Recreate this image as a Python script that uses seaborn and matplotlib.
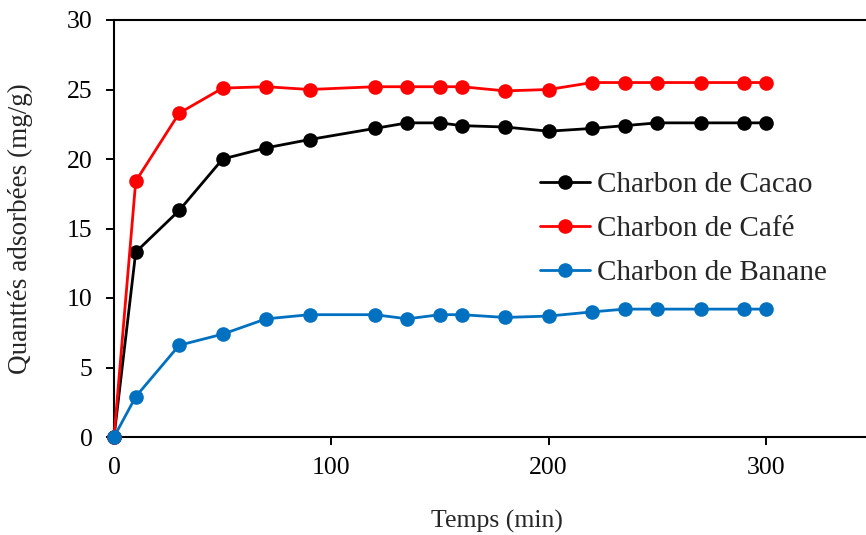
import matplotlib
matplotlib.use("Agg")
import matplotlib.pyplot as plt
import seaborn as sns
import pandas as pd

temps = [0, 10, 30, 50, 70, 90, 120, 135, 150, 160, 180, 200, 220, 235, 250, 270, 290, 300]
cacao = [0, 13.3, 16.3, 20.0, 20.8, 21.4, 22.2, 22.6, 22.6, 22.4, 22.3, 22.0, 22.2, 22.4, 22.6, 22.6, 22.6, 22.6]
cafe = [0, 18.4, 23.3, 25.1, 25.2, 25.0, 25.2, 25.2, 25.2, 25.2, 24.9, 25.0, 25.5, 25.5, 25.5, 25.5, 25.5, 25.5]
banane = [0, 2.9, 6.6, 7.4, 8.5, 8.8, 8.8, 8.5, 8.8, 8.8, 8.6, 8.7, 9.0, 9.2, 9.2, 9.2, 9.2, 9.2]
labels = ["Charbon de Cacao", "Charbon de Café", "Charbon de Banane"]
colors = ["#000000", "#FF0000", "#0070C0"]
x_ticks = [0, 100, 200, 300]
y_ticks = [0, 5, 10, 15, 20, 25, 30]

sns.set_style("white")
plt.rcParams["font.family"] = ["Liberation Serif", "DejaVu Serif"]

W, H = 866, 535
fig = plt.figure(figsize=(W / 100, H / 100), dpi=100)
x0, x1, ytop, ybot = 114, 874.6, 20, 437
ax = fig.add_axes([x0 / W, (H - ybot) / H, (x1 - x0) / W, (ybot - ytop) / H])

for series, lab, col in zip([cacao, cafe, banane], labels, colors):
    df = pd.DataFrame({"t": temps, "q": series})
    sns.lineplot(data=df, x="t", y="q", ax=ax, color=col, marker="o",
                 markersize=10.5, markeredgewidth=0, linewidth=2.0, label=lab,
                 clip_on=False, zorder=3)

ax.set_xlim(0, 350)
ax.set_ylim(0, 30)
ax.set_xticks(x_ticks)
ax.set_yticks(y_ticks)
ax.tick_params(axis="both", direction="out", length=5.5, width=1.4,
               labelsize=18.5, color="black", labelcolor="black")
ax.tick_params(axis="y", pad=10)
ax.tick_params(axis="x", pad=9)
ax.tick_params(left=True, bottom=True)
for s in ["left", "bottom", "top"]:
    ax.spines[s].set_visible(True)
    ax.spines[s].set_linewidth(1.5)
    ax.spines[s].set_color("black")
ax.spines["right"].set_visible(False)

ax.set_xlabel("Temps (min)", fontsize=18.5)
ax.set_ylabel("Quanttés adsorbées (mg/g)", fontsize=19.5)
ax.xaxis.set_label_coords((497 - x0) / (x1 - x0), -(521 - ybot) / (ybot - ytop))
ax.yaxis.set_label_coords(-(114 - 20) / (x1 - x0), 0.5)
ax.xaxis.label.set_va("center")
ax.yaxis.label.set_va("center")

leg = ax.legend(loc="upper left", bbox_to_anchor=(540 / W, 1 - 172 / H),
                bbox_transform=fig.transFigure, frameon=False, fontsize=21,
                handlelength=1.7, handletextpad=0.25, labelspacing=0.6,
                borderpad=0, borderaxespad=0)

fig.savefig("out.png", dpi=100, facecolor="white")
